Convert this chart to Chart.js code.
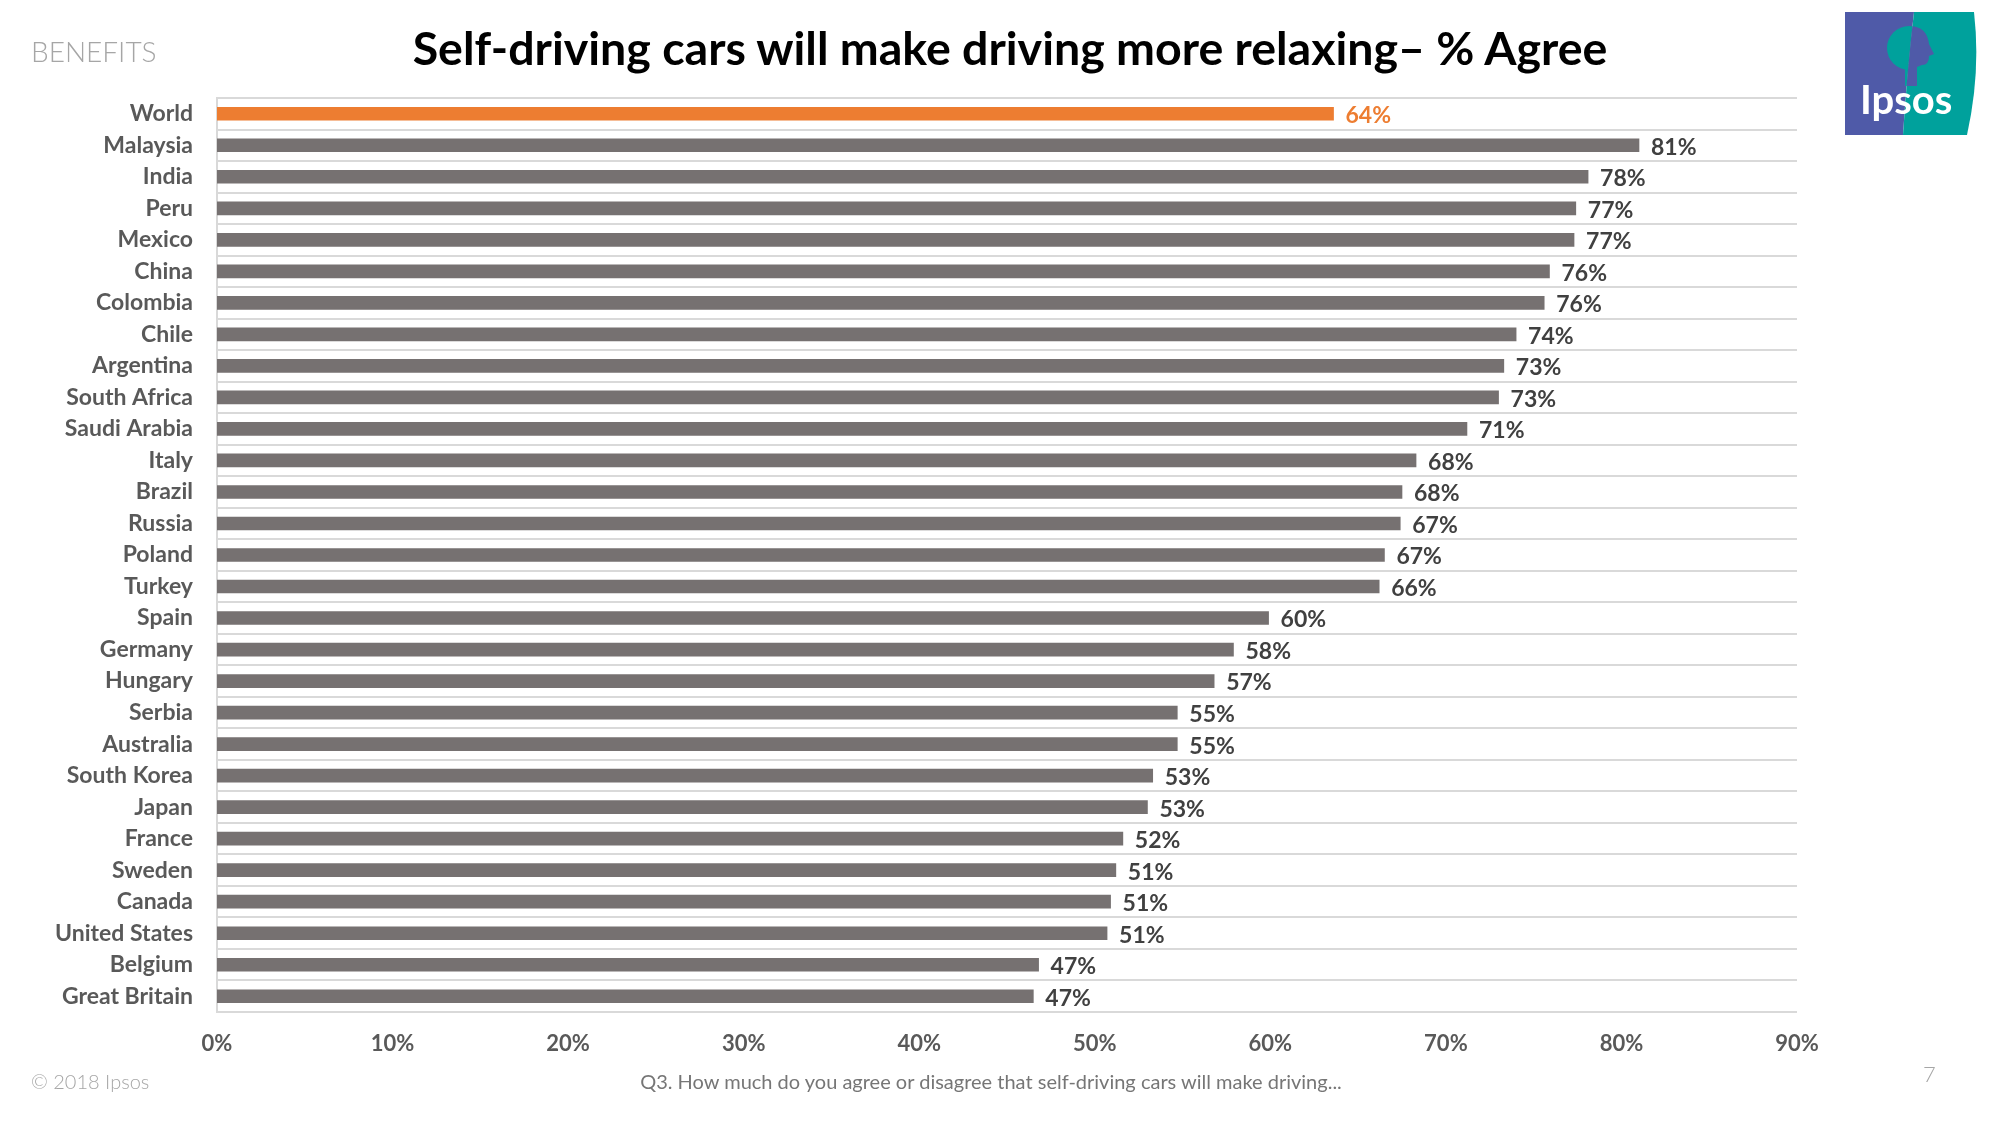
<!DOCTYPE html>
<html>
<head>
<meta charset="utf-8">
<script src="https://cdn.jsdelivr.net/npm/chart.js@4.4.1/dist/chart.umd.min.js"></script>
<style>
  html, body { margin: 0; padding: 0; background: #fff; }
  body { width: 2000px; height: 1125px; position: relative; overflow: hidden; font-family: Lato, "Open Sans", sans-serif; }
  #chartBox { position: absolute; left: 0; top: 0; width: 2000px; height: 1125px; }
  .txt { position: absolute; white-space: nowrap; }
  #benefits { left: 31px; top: 34px; font-size: 28px; font-weight: 300; color: #a6a6a6; }
  #title { left: 1010px; top: 19px; transform: translateX(-50%); font-size: 46.5px; font-weight: 700; color: #000; }
  #copy { left: 31px; top: 1069px; font-size: 20px; font-weight: 300; color: #a6a6a6; }
  #question { left: 991px; top: 1069px; transform: translateX(-50%); font-size: 20px; font-weight: 400; color: #767676; }
  #page { left: 1923px; top: 1060px; font-size: 22px; font-weight: 300; color: #a6a6a6; }
  #logo { position: absolute; left: 1845px; top: 12px; }
</style>
</head>
<body>
<div id="chartBox"><canvas id="agreeChart" width="2000" height="1125"></canvas></div>
<div class="txt" id="benefits">BENEFITS</div>
<div class="txt" id="title">Self-driving cars will make driving more relaxing– % Agree</div>
<div class="txt" id="copy">© 2018 Ipsos</div>
<div class="txt" id="question">Q3. How much do you agree or disagree that self-driving cars will make driving...</div>
<div class="txt" id="page">7</div>
<svg id="logo" width="134" height="124" viewBox="0 0 134 124">
  <defs>
    <clipPath id="leftHalf"><path d="M0 0 L69 0 Q62 60 58 123 L0 123 Z"/></clipPath>
    <clipPath id="rightHalf"><path d="M69 0 L129 0 Q136 60 122 123 L58 123 Q62 60 69 0 Z"/></clipPath>
  </defs>
  <path d="M0 0 L69 0 Q62 60 58 123 L0 123 Z" fill="#4f5aa8"/>
  <path d="M69 0 L129 0 Q136 60 122 123 L58 123 Q62 60 69 0 Z" fill="#00a19c"/>
  <g clip-path="url(#leftHalf)" fill="#00a19c">
    <ellipse cx="64" cy="36" rx="22" ry="22"/>
    <rect x="60" y="52" width="10" height="22"/>
  </g>
  <g clip-path="url(#rightHalf)" fill="#4f5aa8">
    <path d="M64 14 Q82 14 84 32 L89 42 L84 44 Q84 53 77 53 L72 55 L72 74 L60 74 L60 50 Z"/>
  </g>
  <text x="15" y="102" font-family="Lato, sans-serif" font-weight="700" font-size="40" fill="#fff">Ipsos</text>
</svg>
<script>
// ---- data ----
const categories = [
  "World", "Malaysia", "India", "Peru", "Mexico", "China", "Colombia", "Chile",
  "Argentina", "South Africa", "Saudi Arabia", "Italy", "Brazil", "Russia",
  "Poland", "Turkey", "Spain", "Germany", "Hungary", "Serbia", "Australia",
  "South Korea", "Japan", "France", "Sweden", "Canada", "United States",
  "Belgium", "Great Britain"
];
const agreeValues = [
  63.6, 81.0, 78.1, 77.4, 77.3, 75.9, 75.6, 74.0,
  73.3, 73.0, 71.2, 68.3, 67.5, 67.4,
  66.5, 66.2, 59.9, 57.9, 56.8, 54.7, 54.7,
  53.3, 53.0, 51.6, 51.2, 50.9, 50.7,
  46.8, 46.5
];
const xTicks = [0, 10, 20, 30, 40, 50, 60, 70, 80, 90];

const ORANGE = "#ed7d31";
const GREY_BAR = "#767171";
const FONT = "Lato, 'Open Sans', sans-serif";

const barColors = categories.map(c => c === "World" ? ORANGE : GREY_BAR);

// labels at the end of each bar
const valueLabels = {
  id: "valueLabels",
  afterDatasetsDraw(chart) {
    const ctx = chart.ctx;
    const meta = chart.getDatasetMeta(0);
    ctx.save();
    ctx.font = "700 23px " + FONT;
    ctx.textBaseline = "middle";
    ctx.textAlign = "left";
    meta.data.forEach((bar, i) => {
      ctx.fillStyle = categories[i] === "World" ? ORANGE : "#404040";
      ctx.fillText(Math.round(agreeValues[i]) + "%", bar.x + 12, bar.y + 2);
    });
    ctx.restore();
  }
};

new Chart(document.getElementById("agreeChart").getContext("2d"), {
  type: "bar",
  data: {
    labels: categories,
    datasets: [{
      data: agreeValues,
      backgroundColor: barColors,
      borderWidth: 0,
      barThickness: 13
    }]
  },
  options: {
    indexAxis: "y",
    responsive: false,
    animation: false,
    layout: { padding: { left: 0, top: 98, right: 203, bottom: 0 } },
    plugins: {
      legend: { display: false },
      tooltip: { enabled: false }
    },
    scales: {
      x: {
        min: 0,
        max: 90,
        afterBuildTicks: scale => { scale.ticks = xTicks.map(v => ({ value: v })); },
        afterFit: scale => { scale.height = 113; },
        grid: { display: false, drawTicks: false },
        border: { display: false },
        ticks: {
          padding: 19,
          color: "#595959",
          font: { family: FONT, size: 22, weight: "700" },
          callback: v => v + "%"
        }
      },
      y: {
        afterFit: scale => { scale.width = 217; },
        grid: { color: "#d9d9d9", lineWidth: 2, drawTicks: false },
        border: { color: "#d9d9d9", width: 2 },
        ticks: {
          padding: 24,
          color: "#595959",
          font: { family: FONT, size: 23, weight: "700" }
        }
      }
    }
  },
  plugins: [valueLabels]
});
</script>
</body>
</html>
